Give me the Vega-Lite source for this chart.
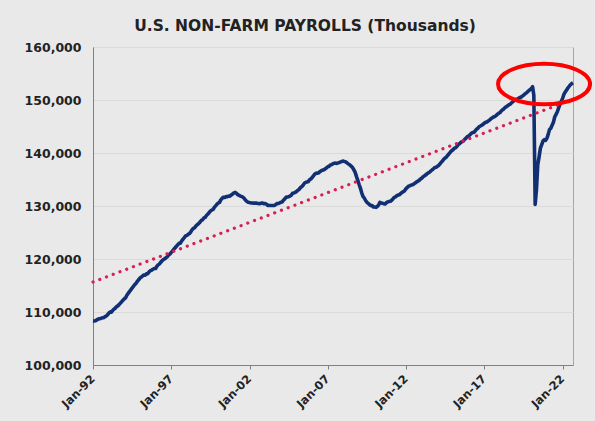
{
  "$schema": "https://vega.github.io/schema/vega-lite/v6.json",
  "width": 480,
  "height": 318,
  "autosize": {"type": "none"},
  "padding": {"left": 93, "top": 47, "right": 22, "bottom": 56},
  "background": "#e9e9e9",
  "title": {
    "text": "U.S. NON-FARM PAYROLLS (Thousands)",
    "font": "DejaVu Sans",
    "fontSize": 15.5,
    "fontWeight": "bold",
    "color": "#222222",
    "anchor": "middle",
    "frame": "group",
    "dx": -28,
    "offset": 7
  },
  "datasets": {
    "payrolls": [
      {"date":"1992-01-01","value":108365},{"date":"1992-02-01","value":108320},{"date":"1992-03-01","value":108367},{"date":"1992-04-01","value":108528},{"date":"1992-05-01","value":108659},{"date":"1992-06-01","value":108729},{"date":"1992-07-01","value":108771},{"date":"1992-08-01","value":108918},{"date":"1992-09-01","value":108907},{"date":"1992-10-01","value":109092},{"date":"1992-11-01","value":109221},{"date":"1992-12-01","value":109433},
      {"date":"1993-01-01","value":109741},{"date":"1993-02-01","value":110001},{"date":"1993-03-01","value":109953},{"date":"1993-04-01","value":110255},{"date":"1993-05-01","value":110528},{"date":"1993-06-01","value":110702},{"date":"1993-07-01","value":110991},{"date":"1993-08-01","value":111155},{"date":"1993-09-01","value":111399},{"date":"1993-10-01","value":111671},{"date":"1993-11-01","value":111944},{"date":"1993-12-01","value":112236},
      {"date":"1994-01-01","value":112502},{"date":"1994-02-01","value":112695},{"date":"1994-03-01","value":113161},{"date":"1994-04-01","value":113505},{"date":"1994-05-01","value":113838},{"date":"1994-06-01","value":114155},{"date":"1994-07-01","value":114521},{"date":"1994-08-01","value":114825},{"date":"1994-09-01","value":115176},{"date":"1994-10-01","value":115393},{"date":"1994-11-01","value":115795},{"date":"1994-12-01","value":116088},
      {"date":"1995-01-01","value":116404},{"date":"1995-02-01","value":116584},{"date":"1995-03-01","value":116806},{"date":"1995-04-01","value":116973},{"date":"1995-05-01","value":116957},{"date":"1995-06-01","value":117193},{"date":"1995-07-01","value":117239},{"date":"1995-08-01","value":117557},{"date":"1995-09-01","value":117787},{"date":"1995-10-01","value":117907},{"date":"1995-11-01","value":118054},{"date":"1995-12-01","value":118198},
      {"date":"1996-01-01","value":118206},{"date":"1996-02-01","value":118655},{"date":"1996-03-01","value":118898},{"date":"1996-04-01","value":119077},{"date":"1996-05-01","value":119398},{"date":"1996-06-01","value":119674},{"date":"1996-07-01","value":119874},{"date":"1996-08-01","value":120058},{"date":"1996-09-01","value":120237},{"date":"1996-10-01","value":120458},{"date":"1996-11-01","value":120783},{"date":"1996-12-01","value":120951},
      {"date":"1997-01-01","value":121245},{"date":"1997-02-01","value":121526},{"date":"1997-03-01","value":121846},{"date":"1997-04-01","value":122126},{"date":"1997-05-01","value":122412},{"date":"1997-06-01","value":122670},{"date":"1997-07-01","value":122952},{"date":"1997-08-01","value":122972},{"date":"1997-09-01","value":123431},{"date":"1997-10-01","value":123723},{"date":"1997-11-01","value":124051},{"date":"1997-12-01","value":124352},
      {"date":"1998-01-01","value":124452},{"date":"1998-02-01","value":124672},{"date":"1998-03-01","value":124822},{"date":"1998-04-01","value":125099},{"date":"1998-05-01","value":125528},{"date":"1998-06-01","value":125771},{"date":"1998-07-01","value":125896},{"date":"1998-08-01","value":126264},{"date":"1998-09-01","value":126480},{"date":"1998-10-01","value":126683},{"date":"1998-11-01","value":126945},{"date":"1998-12-01","value":127272},
      {"date":"1999-01-01","value":127396},{"date":"1999-02-01","value":127742},{"date":"1999-03-01","value":127837},{"date":"1999-04-01","value":128213},{"date":"1999-05-01","value":128438},{"date":"1999-06-01","value":128720},{"date":"1999-07-01","value":129042},{"date":"1999-08-01","value":129236},{"date":"1999-09-01","value":129352},{"date":"1999-10-01","value":129730},{"date":"1999-11-01","value":130017},{"date":"1999-12-01","value":130317},
      {"date":"2000-01-01","value":130561},{"date":"2000-02-01","value":130681},{"date":"2000-03-01","value":131153},{"date":"2000-04-01","value":131440},{"date":"2000-05-01","value":131661},{"date":"2000-06-01","value":131591},{"date":"2000-07-01","value":131761},{"date":"2000-08-01","value":131763},{"date":"2000-09-01","value":131884},{"date":"2000-10-01","value":131860},{"date":"2000-11-01","value":132083},{"date":"2000-12-01","value":132254},
      {"date":"2001-01-01","value":132484},{"date":"2001-02-01","value":132568},{"date":"2001-03-01","value":132418},{"date":"2001-04-01","value":132114},{"date":"2001-05-01","value":132041},{"date":"2001-06-01","value":131862},{"date":"2001-07-01","value":131796},{"date":"2001-08-01","value":131640},{"date":"2001-09-01","value":131402},{"date":"2001-10-01","value":131082},{"date":"2001-11-01","value":130848},{"date":"2001-12-01","value":130700},
      {"date":"2002-01-01","value":130640},{"date":"2002-02-01","value":130591},{"date":"2002-03-01","value":130565},{"date":"2002-04-01","value":130543},{"date":"2002-05-01","value":130540},{"date":"2002-06-01","value":130577},{"date":"2002-07-01","value":130481},{"date":"2002-08-01","value":130467},{"date":"2002-09-01","value":130426},{"date":"2002-10-01","value":130550},{"date":"2002-11-01","value":130564},{"date":"2002-12-01","value":130417},
      {"date":"2003-01-01","value":130480},{"date":"2003-02-01","value":130333},{"date":"2003-03-01","value":130120},{"date":"2003-04-01","value":130110},{"date":"2003-05-01","value":130082},{"date":"2003-06-01","value":130086},{"date":"2003-07-01","value":130086},{"date":"2003-08-01","value":130091},{"date":"2003-09-01","value":130242},{"date":"2003-10-01","value":130441},{"date":"2003-11-01","value":130467},{"date":"2003-12-01","value":130544},
      {"date":"2004-01-01","value":130710},{"date":"2004-02-01","value":130760},{"date":"2004-03-01","value":131084},{"date":"2004-04-01","value":131333},{"date":"2004-05-01","value":131640},{"date":"2004-06-01","value":131713},{"date":"2004-07-01","value":131757},{"date":"2004-08-01","value":131881},{"date":"2004-09-01","value":132041},{"date":"2004-10-01","value":132394},{"date":"2004-11-01","value":132455},{"date":"2004-12-01","value":132585},
      {"date":"2005-01-01","value":132716},{"date":"2005-02-01","value":132971},{"date":"2005-03-01","value":133103},{"date":"2005-04-01","value":133469},{"date":"2005-05-01","value":133645},{"date":"2005-06-01","value":133893},{"date":"2005-07-01","value":134266},{"date":"2005-08-01","value":134459},{"date":"2005-09-01","value":134529},{"date":"2005-10-01","value":134612},{"date":"2005-11-01","value":134946},{"date":"2005-12-01","value":135108},
      {"date":"2006-01-01","value":135386},{"date":"2006-02-01","value":135699},{"date":"2006-03-01","value":136002},{"date":"2006-04-01","value":136177},{"date":"2006-05-01","value":136197},{"date":"2006-06-01","value":136268},{"date":"2006-07-01","value":136475},{"date":"2006-08-01","value":136650},{"date":"2006-09-01","value":136806},{"date":"2006-10-01","value":136807},{"date":"2006-11-01","value":137017},{"date":"2006-12-01","value":137181},
      {"date":"2007-01-01","value":137412},{"date":"2007-02-01","value":137494},{"date":"2007-03-01","value":137722},{"date":"2007-04-01","value":137809},{"date":"2007-05-01","value":137984},{"date":"2007-06-01","value":138051},{"date":"2007-07-01","value":138084},{"date":"2007-08-01","value":138046},{"date":"2007-09-01","value":138135},{"date":"2007-10-01","value":138219},{"date":"2007-11-01","value":138334},{"date":"2007-12-01","value":138437},
      {"date":"2008-01-01","value":138465},{"date":"2008-02-01","value":138379},{"date":"2008-03-01","value":138299},{"date":"2008-04-01","value":138085},{"date":"2008-05-01","value":137903},{"date":"2008-06-01","value":137731},{"date":"2008-07-01","value":137521},{"date":"2008-08-01","value":137262},{"date":"2008-09-01","value":136818},{"date":"2008-10-01","value":136337},{"date":"2008-11-01","value":135550},{"date":"2008-12-01","value":134852},
      {"date":"2009-01-01","value":134061},{"date":"2009-02-01","value":133341},{"date":"2009-03-01","value":132540},{"date":"2009-04-01","value":131817},{"date":"2009-05-01","value":131507},{"date":"2009-06-01","value":131040},{"date":"2009-07-01","value":130712},{"date":"2009-08-01","value":130478},{"date":"2009-09-01","value":130262},{"date":"2009-10-01","value":130062},{"date":"2009-11-01","value":130085},{"date":"2009-12-01","value":129825},
      {"date":"2010-01-01","value":129806},{"date":"2010-02-01","value":129739},{"date":"2010-03-01","value":129919},{"date":"2010-04-01","value":130178},{"date":"2010-05-01","value":130688},{"date":"2010-06-01","value":130566},{"date":"2010-07-01","value":130499},{"date":"2010-08-01","value":130444},{"date":"2010-09-01","value":130389},{"date":"2010-10-01","value":130651},{"date":"2010-11-01","value":130781},{"date":"2010-12-01","value":130853},
      {"date":"2011-01-01","value":130901},{"date":"2011-02-01","value":131091},{"date":"2011-03-01","value":131326},{"date":"2011-04-01","value":131636},{"date":"2011-05-01","value":131733},{"date":"2011-06-01","value":131953},{"date":"2011-07-01","value":132070},{"date":"2011-08-01","value":132141},{"date":"2011-09-01","value":132366},{"date":"2011-10-01","value":132571},{"date":"2011-11-01","value":132704},{"date":"2011-12-01","value":132913},
      {"date":"2012-01-01","value":133275},{"date":"2012-02-01","value":133511},{"date":"2012-03-01","value":133748},{"date":"2012-04-01","value":133834},{"date":"2012-05-01","value":133941},{"date":"2012-06-01","value":134007},{"date":"2012-07-01","value":134169},{"date":"2012-08-01","value":134330},{"date":"2012-09-01","value":134521},{"date":"2012-10-01","value":134683},{"date":"2012-11-01","value":134839},{"date":"2012-12-01","value":135076},
      {"date":"2013-01-01","value":135249},{"date":"2013-02-01","value":135529},{"date":"2013-03-01","value":135657},{"date":"2013-04-01","value":135834},{"date":"2013-05-01","value":136065},{"date":"2013-06-01","value":136240},{"date":"2013-07-01","value":136370},{"date":"2013-08-01","value":136615},{"date":"2013-09-01","value":136806},{"date":"2013-10-01","value":137029},{"date":"2013-11-01","value":137246},{"date":"2013-12-01","value":137302},
      {"date":"2014-01-01","value":137497},{"date":"2014-02-01","value":137661},{"date":"2014-03-01","value":137925},{"date":"2014-04-01","value":138260},{"date":"2014-05-01","value":138505},{"date":"2014-06-01","value":138836},{"date":"2014-07-01","value":139062},{"date":"2014-08-01","value":139249},{"date":"2014-09-01","value":139586},{"date":"2014-10-01","value":139857},{"date":"2014-11-01","value":140179},{"date":"2014-12-01","value":140432},
      {"date":"2015-01-01","value":140622},{"date":"2015-02-01","value":140895},{"date":"2015-03-01","value":140966},{"date":"2015-04-01","value":141260},{"date":"2015-05-01","value":141591},{"date":"2015-06-01","value":141741},{"date":"2015-07-01","value":142007},{"date":"2015-08-01","value":142144},{"date":"2015-09-01","value":142257},{"date":"2015-10-01","value":142591},{"date":"2015-11-01","value":142808},{"date":"2015-12-01","value":143080},
      {"date":"2016-01-01","value":143214},{"date":"2016-02-01","value":143459},{"date":"2016-03-01","value":143690},{"date":"2016-04-01","value":143851},{"date":"2016-05-01","value":143890},{"date":"2016-06-01","value":144146},{"date":"2016-07-01","value":144493},{"date":"2016-08-01","value":144648},{"date":"2016-09-01","value":144957},{"date":"2016-10-01","value":145094},{"date":"2016-11-01","value":145251},{"date":"2016-12-01","value":145400},
      {"date":"2017-01-01","value":145619},{"date":"2017-02-01","value":145794},{"date":"2017-03-01","value":145866},{"date":"2017-04-01","value":146035},{"date":"2017-05-01","value":146201},{"date":"2017-06-01","value":146427},{"date":"2017-07-01","value":146622},{"date":"2017-08-01","value":146794},{"date":"2017-09-01","value":146873},{"date":"2017-10-01","value":147054},{"date":"2017-11-01","value":147299},{"date":"2017-12-01","value":147474},
      {"date":"2018-01-01","value":147631},{"date":"2018-02-01","value":147956},{"date":"2018-03-01","value":148140},{"date":"2018-04-01","value":148312},{"date":"2018-05-01","value":148595},{"date":"2018-06-01","value":148752},{"date":"2018-07-01","value":148912},{"date":"2018-08-01","value":149120},{"date":"2018-09-01","value":149224},{"date":"2018-10-01","value":149502},{"date":"2018-11-01","value":149690},{"date":"2018-12-01","value":149884},
      {"date":"2019-01-01","value":150105},{"date":"2019-02-01","value":150120},{"date":"2019-03-01","value":150269},{"date":"2019-04-01","value":150454},{"date":"2019-05-01","value":150516},{"date":"2019-06-01","value":150694},{"date":"2019-07-01","value":150888},{"date":"2019-08-01","value":151097},{"date":"2019-09-01","value":151303},{"date":"2019-10-01","value":151488},{"date":"2019-11-01","value":151752},{"date":"2019-12-01","value":151916},
      {"date":"2020-01-01","value":152130},{"date":"2020-02-01","value":152506},{"date":"2020-03-01","value":150895},{"date":"2020-04-01","value":130303},{"date":"2020-05-01","value":133028},{"date":"2020-06-01","value":137786},{"date":"2020-07-01","value":139218},{"date":"2020-08-01","value":140902},{"date":"2020-09-01","value":141573},{"date":"2020-10-01","value":142252},{"date":"2020-11-01","value":142525},{"date":"2020-12-01","value":142394},
      {"date":"2021-01-01","value":142817},{"date":"2021-02-01","value":143567},{"date":"2021-03-01","value":144410},{"date":"2021-04-01","value":144680},{"date":"2021-05-01","value":145228},{"date":"2021-06-01","value":145797},{"date":"2021-07-01","value":146784},{"date":"2021-08-01","value":147293},{"date":"2021-09-01","value":147778},{"date":"2021-10-01","value":148502},{"date":"2021-11-01","value":149190},{"date":"2021-12-01","value":149778},
      {"date":"2022-01-01","value":150283},{"date":"2022-02-01","value":151076},{"date":"2022-03-01","value":151474},{"date":"2022-04-01","value":151842},{"date":"2022-05-01","value":152229},{"date":"2022-06-01","value":152548},{"date":"2022-07-01","value":152874},{"date":"2022-08-01","value":153090},{"date":"2022-09-01","value":153250}
    ],
    "trend": [
      {"date":"1992-01-01","value":115650},
      {"date":"2022-01-01","value":149400}
    ],
    "highlight": [
      {"date":"2020-10-25","value":153000}
    ]
  },
  "encoding": {
    "x": {
      "field": "date",
      "type": "temporal",
      "scale": {
        "type": "utc",
        "domain": [{"year":1992,"month":1,"date":1,"utc":true},{"year":2022,"month":9,"date":1,"utc":true}],
        "nice": false
      },
      "axis": {
        "title": null,
        "grid": false,
        "values": [
          {"year":1992,"month":1,"date":1,"utc":true},
          {"year":1997,"month":1,"date":1,"utc":true},
          {"year":2002,"month":1,"date":1,"utc":true},
          {"year":2007,"month":1,"date":1,"utc":true},
          {"year":2012,"month":1,"date":1,"utc":true},
          {"year":2017,"month":1,"date":1,"utc":true},
          {"year":2022,"month":1,"date":1,"utc":true}
        ],
        "format": "%b-%y",
        "labelAngle": -45,
        "labelAlign": "right",
        "labelBaseline": "middle",
        "labelPadding": 8,
        "labelFont": "DejaVu Sans",
        "labelFontSize": 11.5,
        "labelFontWeight": "bold",
        "labelColor": "#222222",
        "labelOverlap": false,
        "labelFlush": false,
        "tickSize": 4,
        "tickColor": "#808080",
        "domainColor": "#808080"
      }
    },
    "y": {
      "field": "value",
      "type": "quantitative",
      "scale": {"domain": [100000, 160000], "nice": false, "zero": false},
      "axis": {
        "title": null,
        "values": [100000, 110000, 120000, 130000, 140000, 150000, 160000],
        "format": ",d",
        "ticks": false,
        "labelPadding": 12,
        "labelFont": "DejaVu Sans",
        "labelFontSize": 12.5,
        "labelFontWeight": "bold",
        "labelColor": "#222222",
        "gridColor": "#dadada",
        "domainColor": "#808080"
      }
    }
  },
  "layer": [
    {
      "data": {"name": "payrolls"},
      "mark": {"type": "line", "color": "#112f73", "strokeWidth": 3.6, "strokeJoin": "round"}
    },
    {
      "data": {"name": "trend"},
      "mark": {"type": "line", "color": "#d81f52", "strokeWidth": 3.2, "strokeCap": "round", "strokeDash": [0.1, 7.1]}
    },
    {
      "data": {"name": "highlight"},
      "mark": {
        "type": "point",
        "shape": "M -1 0 A 1 0.44 0 1 1 1 0 A 1 0.44 0 1 1 -1 0 Z",
        "size": 8464,
        "filled": false,
        "stroke": "#ff0000",
        "strokeWidth": 4,
        "opacity": 1
      }
    }
  ],
  "config": {
    "view": {"stroke": "#a6a6a6", "fill": "#e9e9e9"},
    "axis": {"gridWidth": 1}
  }
}
